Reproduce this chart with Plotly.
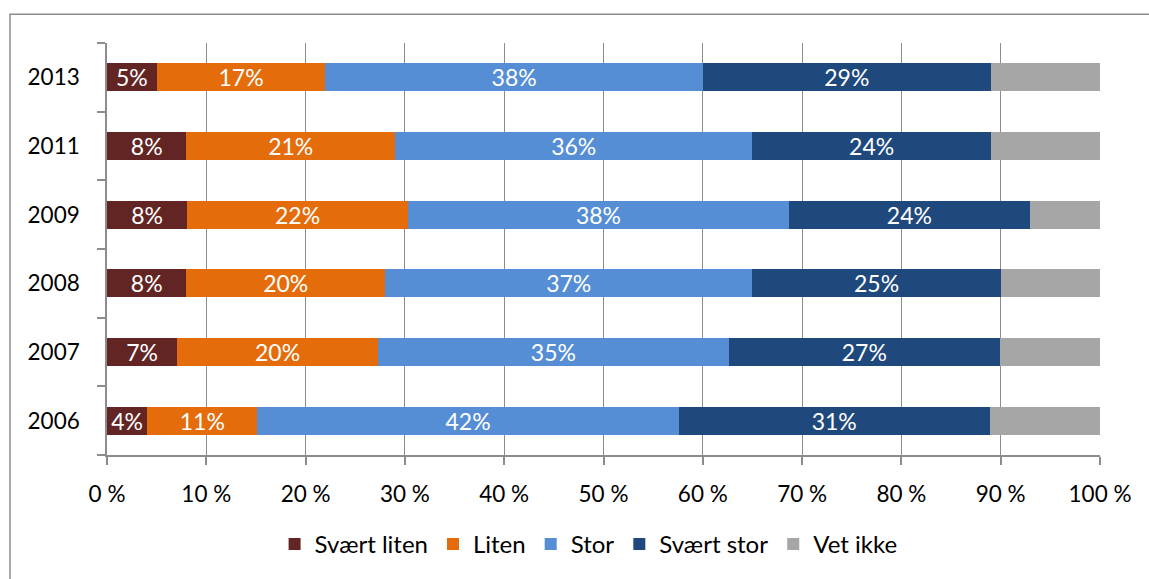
import plotly.graph_objects as go

years = ["2006", "2007", "2008", "2009", "2011", "2013"]
series_names = ["Svært liten", "Liten", "Stor", "Svært stor", "Vet ikke"]
svaert_liten = [4, 7, 8, 8, 8, 5]
liten = [11, 20, 20, 22, 21, 17]
stor = [42, 35, 37, 38, 36, 38]
svaert_stor = [31, 27, 25, 24, 24, 29]
vet_ikke = [11, 10, 10, 7, 11, 11]
x_ticks = [0, 10, 20, 30, 40, 50, 60, 70, 80, 90, 100]
x_ticklabels = [f"{t} %" for t in x_ticks]

colors = ["#632523", "#E46C0A", "#558ED5", "#1F497D", "#A6A6A6"]
values = [svaert_liten, liten, stor, svaert_stor, vet_ikke]
show_text = [True, True, True, True, False]

FONT = "Lato"

fig = go.Figure()
for name, vals, col, st in zip(series_names, values, colors, show_text):
    fig.add_trace(go.Bar(
        y=years, x=vals, name=name, orientation="h",
        marker=dict(color=col, line=dict(width=0)),
        text=[f"{v}%" for v in vals] if st else None,
        textposition="inside" if st else "none",
        insidetextanchor="middle",
        textfont=dict(color="white", size=23, family=FONT),
        hoverinfo="skip",
    ))

fig.update_layout(
    barmode="stack", barnorm="percent", bargap=0.59,
    width=1149, height=579,
    margin=dict(l=107, r=49, t=43, b=122),
    paper_bgcolor="white", plot_bgcolor="white",
    font=dict(family=FONT, size=22.5, color="black"),
    showlegend=True,
    legend=dict(orientation="h", x=0.485, xanchor="center", y=-0.217, yanchor="middle",
                traceorder="normal", font=dict(size=24, family=FONT),
                itemwidth=30),
    uniformtext=dict(minsize=20, mode="show"),
)
fig.update_xaxes(
    range=[0, 100], tickvals=x_ticks, ticktext=x_ticklabels,
    showgrid=True, gridcolor="#8C8C8C", gridwidth=1,
    showline=True, linecolor="#8C8C8C", linewidth=1.5,
    ticks="outside", ticklen=8, tickcolor="#8C8C8C", tickwidth=1.5,
    zeroline=False, ticklabelstandoff=10,
)
fig.update_yaxes(
    type="category", categoryorder="array", categoryarray=years,
    tickson="boundaries", showgrid=False,
    showline=True, linecolor="#8C8C8C", linewidth=1.5,
    ticks="outside", ticklen=8, tickcolor="#8C8C8C", tickwidth=1.5,
    ticklabelstandoff=21,
)
# outer chart border
fig.add_shape(type="rect", xref="paper", yref="paper",
              x0=(10 - 107) / 993, x1=(1160 - 107) / 993,
              y0=(457 - 600) / 414, y1=(457 - 14) / 414,
              line=dict(color="#8C8C8C", width=1.5), fillcolor="rgba(0,0,0,0)", layer="below")

fig.write_html("out.html", config={"displayModeBar": False},
               post_script="document.body.style.margin='0';document.body.style.overflow='hidden';")
